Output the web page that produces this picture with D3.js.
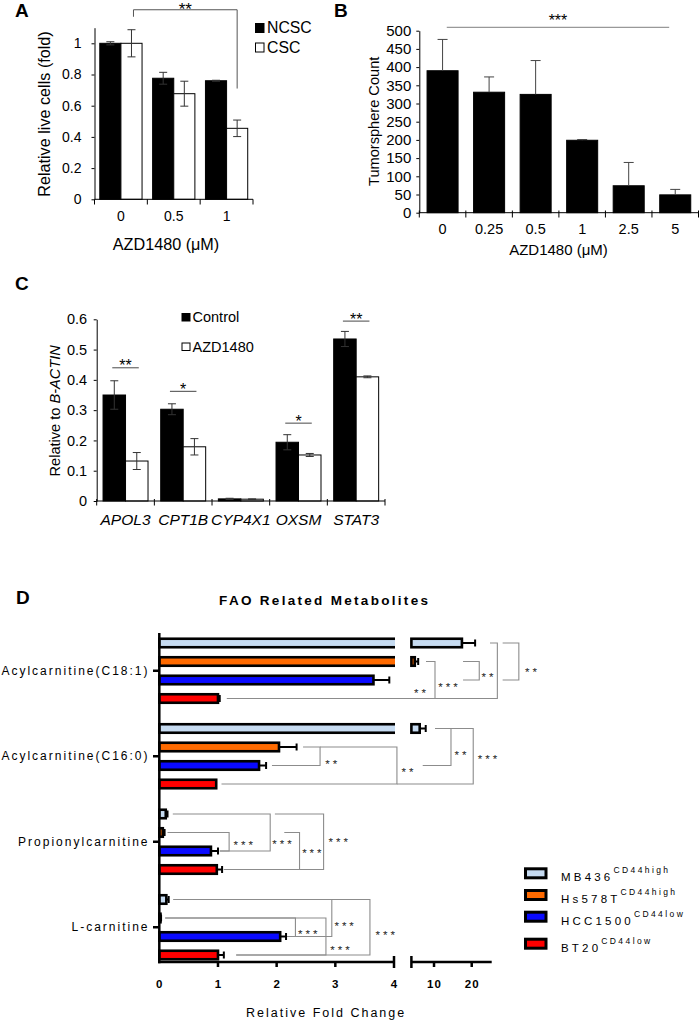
<!DOCTYPE html>
<html><head><meta charset="utf-8">
<script src="https://cdn.jsdelivr.net/npm/d3@7"></script>
<style>
body{margin:0;background:#fff;}
svg{display:block;font-family:"Liberation Sans",Arial,Helvetica,sans-serif;}
</style></head><body>
<svg id="chart" width="699" height="1020"></svg>
<script>
// ================= DATA =================
// Panel A
const aDoses = ["0", "0.5", "1"];
const aSeries = ["NCSC", "CSC"];
const aNCSC = [1.0, 0.776, 0.76];
const aNCSCErr = [0.01, 0.038, 0.003];
const aCSC = [1.0, 0.677, 0.455];
const aCSCErr = [0.087, 0.08, 0.053];
const aYTicks = [0, 0.2, 0.4, 0.6, 0.8, 1];
const aSig = [{from: "0", to: "1", series: "CSC", top: 1.215, leftEnd: 1.17, rightEnd: 0.71, label: "**"}];

// Panel B
const bDoses = ["0", "0.25", "0.5", "1", "2.5", "5"];
const bCounts = [390, 331, 325, 199, 74, 49];
const bErr = [86, 42, 93, 2, 64, 15];
const bYTicks = [0, 50, 100, 150, 200, 250, 300, 350, 400, 450, 500];
const bSig = [{from: "0", to: "5", level: 509, label: "***"}];

// Panel C
const cGenes = ["APOL3", "CPT1B", "CYP4X1", "OXSM", "STAT3"];
const cSeries = ["Control", "AZD1480"];
const cControl = [0.35, 0.303, 0.007, 0.194, 0.535];
const cControlErr = [0.047, 0.018, 0.002, 0.025, 0.025];
const cAZD = [0.132, 0.179, 0.006, 0.152, 0.41];
const cAZDErr = [0.028, 0.027, 0.001, 0.005, 0.003];
const cYTicks = [0, 0.1, 0.2, 0.3, 0.4, 0.5, 0.6];
const cSig = [
  {gene: "APOL3", level: 0.44, label: "**"},
  {gene: "CPT1B", level: 0.362, label: "*"},
  {gene: "OXSM", level: 0.257, label: "*"},
  {gene: "STAT3", level: 0.594, label: "**"}
];

// Panel D
const dMetabolites = ["Acylcarnitine(C18:1)", "Acylcarnitine(C16:0)", "Propionylcarnitine", "L-carnitine"];
const dLines = ["MB436", "Hs578T", "HCC1500", "BT20"];
const dSuper = ["CD44high", "CD44high", "CD44low", "CD44low"];
const dColors = ["#c6dbf1", "#ff6a00", "#0a0aff", "#ff0000"];
const dMB436 = [17.4, 6.2, 0.11, 0.12];
const dMB436Err = [3.5, 1.6, 0.03, 0.04];
const dHs578T = [4.9, 2.04, 0.06, 0.02];
const dHs578TErr = [0.9, 0.3, 0.03, 0.01];
const dHCC1500 = [3.65, 1.7, 0.88, 2.06];
const dHCC1500Err = [0.27, 0.12, 0.12, 0.1];
const dBT20 = [1.0, 0.97, 0.98, 1.0];
const dBT20Err = [0.03, 0.0, 0.09, 0.1];
const dTicksLow = [0, 1, 2, 3, 4];
const dTicksHigh = [10, 20];
// brackets: metabolite index, top bar, bottom bar, vertical x, top arm start, bottom arm start (fold units)
const dBrackets = [
  {m: 0, a: 1, b: 3, x: 10.26, xa: 7.87, xb: 1.15},
  {m: 0, a: 0, b: 3, x: 26.8, xa: 24.85, xb: 10.26},
  {m: 0, a: 0, b: 2, x: 32.5, xa: 28.2, xb: 28.2},
  {m: 0, a: 1, b: 2, x: 22.0, xa: 17.7, xb: 17.7},
  {m: 1, a: 1, b: 2, x: 2.74, xa: 2.45, xb: 1.92},
  {m: 1, a: 1, b: 3, x: 4.05, xa: 2.74, xb: 1.06},
  {m: 1, a: 0, b: 2, x: 14.5, xa: 10.26, xb: 7.0},
  {m: 1, a: 0, b: 3, x: 20.4, xa: 14.5, xb: 4.05},
  {m: 2, a: 0, b: 2, x: 1.89, xa: 0.23, xb: 1.03},
  {m: 2, a: 1, b: 2, x: 1.19, xa: 0.14, xb: 1.03},
  {m: 2, a: 0, b: 3, x: 2.8, xa: 1.97, xb: 1.1},
  {m: 2, a: 1, b: 3, x: 2.39, xa: 2.13, xb: 1.1},
  {m: 3, a: 0, b: 3, x: 3.59, xa: 0.24, xb: 1.31},
  {m: 3, a: 0, b: 2, x: 2.94, xa: 0.24, xb: 2.14},
  {m: 3, a: 1, b: 2, x: 2.32, xa: 0.1, xb: 2.14},
  {m: 3, a: 1, b: 3, x: 2.84, xa: 0.1, xb: 1.31}
];
const dStars = [
  {m: 0, x: 6.28, s: 2.58, label: "**"},
  {m: 0, x: 13.7, s: 2.25, label: "***"},
  {m: 0, x: 35.7, s: 1.45, label: "**"},
  {m: 0, x: 24.2, s: 1.71, label: "**"},
  {m: 1, x: 2.93, s: 1.8, label: "**"},
  {m: 1, x: 4.23, s: 2.23, label: "**"},
  {m: 1, x: 17.0, s: 1.31, label: "**"},
  {m: 1, x: 24.2, s: 1.53, label: "***"},
  {m: 2, x: 2.09, s: 1.51, label: "***"},
  {m: 2, x: 1.43, s: 1.57, label: "***"},
  {m: 2, x: 3.05, s: 1.41, label: "***"},
  {m: 2, x: 2.6, s: 2.0, label: "***"},
  {m: 3, x: 3.85, s: 1.78, label: "***"},
  {m: 3, x: 3.15, s: 1.3, label: "***"},
  {m: 3, x: 2.53, s: 1.73, label: "***"},
  {m: 3, x: 3.08, s: 2.6, label: "***"}
];

// ================= DRAWING =================
const svg = d3.select("#chart");
svg.append("rect").attr("width", 699).attr("height", 1020).attr("fill", "#fff");

function txt(g, x, y, s, size, opts = {}) {
  const t = g.append("text").attr("x", x).attr("y", y).attr("font-size", size).attr("fill", opts.fill || "#000").text(s);
  if (opts.anchor) t.attr("text-anchor", opts.anchor);
  if (opts.weight) t.attr("font-weight", opts.weight);
  if (opts.style) t.attr("font-style", opts.style);
  if (opts.ls) t.attr("letter-spacing", opts.ls);
  if (opts.transform) t.attr("transform", opts.transform);
  return t;
}
function styleAxis(g, size) {
  g.attr("font-size", null).attr("font-family", null);
  g.selectAll("text").attr("font-size", size).attr("fill", "#000");
  g.selectAll("line").attr("stroke", "#000");
  g.select(".domain").attr("stroke", "#000");
}
function errBar(g, x, y1, y2, cap, color, w) {
  g.append("line").attr("x1", x).attr("x2", x).attr("y1", y1).attr("y2", y2).attr("stroke", color).attr("stroke-width", w || 1);
  [y1, y2].forEach(yy => g.append("line").attr("x1", x - cap / 2).attr("x2", x + cap / 2).attr("y1", yy).attr("y2", yy).attr("stroke", color).attr("stroke-width", w || 1));
}

// ---------- Panel A ----------
(function () {
  const g = svg.append("g");
  txt(g, 15, 17, "A", 19, {weight: "bold"});
  const xA = d3.scaleBand().domain(aDoses).range([94.5, 253]).paddingInner(0.2).paddingOuter(0.1);
  const sA = d3.scaleBand().domain(aSeries).range([0, xA.bandwidth()]);
  const yA = d3.scaleLinear().domain([0, 1.1]).range([199.3, 27.7]);
  const vals = {NCSC: aNCSC, CSC: aCSC}, errs = {NCSC: aNCSCErr, CSC: aCSCErr};
  const fills = {NCSC: "#000", CSC: "#fff"};
  aSeries.forEach(s => aDoses.forEach((d, i) => {
    const v = vals[s][i], e = errs[s][i];
    const x = xA(d) + sA(s);
    g.append("rect").attr("x", x).attr("y", yA(v)).attr("width", sA.bandwidth()).attr("height", yA(0) - yA(v))
      .attr("fill", fills[s]).attr("stroke", "#000").attr("stroke-width", 1);
    errBar(g, x + sA.bandwidth() / 2, yA(v - e), yA(v + e), 8, "#333");
  }));
  const ya = g.append("g").attr("transform", "translate(94.5,0)")
    .call(d3.axisLeft(yA).tickValues(aYTicks).tickSize(3).tickPadding(10).tickSizeOuter(0).tickFormat(d3.format("~g")));
  styleAxis(ya, 14);
  g.append("line").attr("x1", 94.5).attr("x2", 253).attr("y1", 199.3).attr("y2", 199.3).attr("stroke", "#000");
  d3.range(aDoses.length + 1).forEach(i => {
    const x = 94.5 + i * xA.step();
    g.append("line").attr("x1", x).attr("x2", x).attr("y1", 199.3).attr("y2", 204.5).attr("stroke", "#000");
  });
  aDoses.forEach(d => txt(g, xA(d) + xA.bandwidth() / 2, 220.5, d, 14, {anchor: "middle"}));
  txt(g, 166, 249.5, "AZD1480 (μM)", 16.2, {anchor: "middle"});
  txt(g, 0, 0, "Relative live cells (fold)", 16.2, {anchor: "middle", transform: "translate(50,114) rotate(-90)"});
  aSig.forEach(sg => {
    const x1 = xA(sg.from) + sA(sg.series) + sA.bandwidth() / 2 + 2;
    const x2 = xA(sg.to) + sA(sg.series) + sA.bandwidth() / 2;
    g.append("path").attr("d", `M${x1},${yA(sg.leftEnd)}V${yA(sg.top)}H${x2}V${yA(sg.rightEnd)}`)
      .attr("fill", "none").attr("stroke", "#555").attr("stroke-width", 1);
    txt(g, (x1 + x2) / 2, yA(sg.top) + 5, sg.label, 17, {anchor: "middle"});
  });
  // legend
  aSeries.forEach((s, i) => {
    g.append("rect").attr("x", 255.5).attr("y", 23.5 + i * 19.5).attr("width", 8.5).attr("height", 9)
      .attr("fill", fills[s]).attr("stroke", "#000").attr("stroke-width", 1);
    txt(g, 267, 33 + i * 19.5, s, 15.8);
  });
})();

// ---------- Panel B ----------
(function () {
  const g = svg.append("g");
  txt(g, 334, 17, "B", 19, {weight: "bold"});
  const xB = d3.scaleBand().domain(bDoses).range([419.3, 698.5]).paddingInner(1 / 3).paddingOuter(1 / 6);
  const yB = d3.scaleLinear().domain([0, 500]).range([212.7, 30.7]);
  bDoses.forEach((d, i) => {
    const v = bCounts[i], e = bErr[i];
    g.append("rect").attr("x", xB(d)).attr("y", yB(v)).attr("width", xB.bandwidth()).attr("height", yB(0) - yB(v))
      .attr("fill", "#000").attr("stroke", "#000");
    const cx = xB(d) + xB.bandwidth() / 2;
    g.append("line").attr("x1", cx).attr("x2", cx).attr("y1", yB(v)).attr("y2", yB(v + e)).attr("stroke", "#444");
    g.append("line").attr("x1", cx - 5).attr("x2", cx + 5).attr("y1", yB(v + e)).attr("y2", yB(v + e)).attr("stroke", "#444");
  });
  const ya = g.append("g").attr("transform", "translate(419.3,0)")
    .call(d3.axisLeft(yB).tickValues(bYTicks).tickSize(3).tickPadding(5).tickSizeOuter(0));
  styleAxis(ya, 15);
  g.append("line").attr("x1", 419.3).attr("x2", 698.5).attr("y1", 212.7).attr("y2", 212.7).attr("stroke", "#000");
  d3.range(bDoses.length + 1).forEach(i => {
    const x = 419.3 + i * xB.step();
    g.append("line").attr("x1", x).attr("x2", x).attr("y1", 210.5).attr("y2", 217.5).attr("stroke", "#000");
  });
  bDoses.forEach(d => txt(g, xB(d) + xB.bandwidth() / 2, 234, d, 14.5, {anchor: "middle"}));
  txt(g, 558.5, 255, "AZD1480 (μM)", 15, {anchor: "middle"});
  txt(g, 0, 0, "Tumorsphere Count", 14.6, {anchor: "middle", transform: "translate(378.8,121.3) rotate(-90)"});
  bSig.forEach(sg => {
    const x1 = xB(sg.from) + xB.bandwidth() / 2 + 0.09 * xB.step();
    const x2 = xB(sg.to) + xB.bandwidth() / 2 - 0.13 * xB.step();
    g.append("line").attr("x1", x1).attr("x2", x2).attr("y1", yB(sg.level)).attr("y2", yB(sg.level)).attr("stroke", "#999").attr("stroke-width", 1.3);
    txt(g, (x1 + x2) / 2, yB(sg.level) - 1.5, sg.label, 16, {anchor: "middle"});
  });
})();

// ---------- Panel C ----------
(function () {
  const g = svg.append("g");
  txt(g, 15, 290, "C", 19, {weight: "bold"});
  const xC = d3.scaleBand().domain(cGenes).range([96.7, 385]).paddingInner(0.22).paddingOuter(0.11);
  const sC = d3.scaleBand().domain(cSeries).range([0, xC.bandwidth()]);
  const yC = d3.scaleLinear().domain([0, 0.6]).range([501, 319.3]);
  const vals = {Control: cControl, AZD1480: cAZD}, errs = {Control: cControlErr, AZD1480: cAZDErr};
  const fills = {Control: "#000", AZD1480: "#fff"};
  cSeries.forEach(s => cGenes.forEach((d, i) => {
    const v = vals[s][i], e = errs[s][i];
    const x = xC(d) + sC(s);
    g.append("rect").attr("x", x).attr("y", yC(v)).attr("width", sC.bandwidth()).attr("height", yC(0) - yC(v))
      .attr("fill", fills[s]).attr("stroke", "#000").attr("stroke-width", 1);
    errBar(g, x + sC.bandwidth() / 2, yC(v - e), yC(v + e), 8, "#333");
  }));
  const ya = g.append("g").attr("transform", "translate(96.7,0)")
    .call(d3.axisLeft(yC).tickValues(cYTicks).tickSize(3).tickPadding(6.5).tickSizeOuter(0).tickFormat(d3.format("~g")));
  styleAxis(ya, 14.5);
  g.append("line").attr("x1", 96.7).attr("x2", 385).attr("y1", 501).attr("y2", 501).attr("stroke", "#000");
  d3.range(cGenes.length + 1).forEach(i => {
    const x = 96.7 + i * xC.step();
    g.append("line").attr("x1", x).attr("x2", x).attr("y1", 499).attr("y2", 505.5).attr("stroke", "#000");
  });
  cGenes.forEach(d => txt(g, xC(d) + xC.bandwidth() / 2, 524.5, d, 15.5, {anchor: "middle", style: "italic"}));
  const yt = g.append("text").attr("transform", "translate(59.8,410.8) rotate(-90)").attr("text-anchor", "middle").attr("font-size", 14.6);
  yt.append("tspan").text("Relative to ");
  yt.append("tspan").attr("font-style", "italic").text("B-ACTIN");
  cSig.forEach(sg => {
    const cx = xC(sg.gene) + xC.bandwidth() / 2;
    const hw = 0.23 * xC.step();
    g.append("line").attr("x1", cx - hw).attr("x2", cx + hw).attr("y1", yC(sg.level)).attr("y2", yC(sg.level))
      .attr("stroke", "#666").attr("stroke-width", 1.2);
    txt(g, cx, yC(sg.level) + 3.5, sg.label, 16, {anchor: "middle"});
  });
  cSeries.forEach((s, i) => {
    g.append("rect").attr("x", 182).attr("y", 313.5 + i * 29.5).attr("width", 8).attr("height", 7.5)
      .attr("fill", fills[s]).attr("stroke", "#000").attr("stroke-width", 1);
    txt(g, 192.5, 322 + i * 29.5, s, 14.5);
  });
})();

// ---------- Panel D ----------
(function () {
  const g = svg.append("g");
  txt(g, 16, 604, "D", 19, {weight: "bold"});
  txt(g, 324.7, 605, "FAO Related Metabolites", 13.5, {anchor: "middle", weight: "bold", ls: 2.3});
  const xLow = d3.scaleLinear().domain([0, 4]).range([159.3, 394]);
  const xHigh = d3.scaleLinear().domain([4, 25.3]).range([411.4, 491.7]);
  const xD = v => v <= 4.3 ? xLow(v) : xHigh(v);
  const yD = d3.scaleBand().domain(dMetabolites).range([628, 970]);
  const subD = d3.scaleBand().domain(dLines).range([0, yD.bandwidth()]).paddingInner(0.4).paddingOuter(0.51);
  const subStep = subD.step();
  const subY = (m, s) => yD(dMetabolites[m]) + subD(dLines[0]) + subD.bandwidth() / 2 + s * subStep;
  const vals = [dMB436, dHs578T, dHCC1500, dBT20];
  const errs = [dMB436Err, dHs578TErr, dHCC1500Err, dBT20Err];
  const xAxisY = 962;
  svg.append("defs").append("clipPath").attr("id", "clipLow")
    .append("rect").attr("x", 0).attr("y", 0).attr("width", xLow(4) + 1).attr("height", 1020);

  // brackets (behind bars)
  const bg = g.append("g").attr("fill", "none").attr("stroke", "#8c8c8c").attr("stroke-width", 1.1);
  dBrackets.forEach(b => {
    const ya = subY(b.m, b.a), yb = subY(b.m, b.b);
    bg.append("path").attr("d", `M${xD(b.xa)},${ya}H${xD(b.x)}V${yb}H${xD(b.xb)}`);
  });
  dStars.forEach(s => {
    txt(g, xD(s.x) + 1.5, subY(s.m, s.s), s.label, 11.5, {anchor: "middle", ls: 3, fill: "#222"}).attr("dy", "0.55em");
  });

  // bars
  const sw = 2.6;
  dLines.forEach((line, li) => dMetabolites.forEach((m, mi) => {
    const v = vals[li][mi], e = errs[li][mi];
    const y = yD(m) + subD(line) + sw / 2, h = subD.bandwidth() - sw;
    if (v <= 4) {
      g.append("rect").attr("x", xLow(0)).attr("y", y).attr("width", xLow(v) - xLow(0)).attr("height", h)
        .attr("fill", dColors[li]).attr("stroke", "#000").attr("stroke-width", sw);
    } else {
      g.append("rect").attr("x", xLow(0)).attr("y", y).attr("width", xLow(4) - xLow(0) + 8).attr("height", h)
        .attr("clip-path", "url(#clipLow)")
        .attr("fill", dColors[li]).attr("stroke", "#000").attr("stroke-width", sw);
      g.append("rect").attr("x", xHigh(4)).attr("y", y).attr("width", xHigh(v) - xHigh(4)).attr("height", h)
        .attr("fill", dColors[li]).attr("stroke", "#000").attr("stroke-width", sw);
    }
    if (e > 0) {
      const cy = y + h / 2;
      g.append("line").attr("x1", xD(v)).attr("x2", xD(v + e)).attr("y1", cy).attr("y2", cy).attr("stroke", "#000").attr("stroke-width", 2);
      g.append("line").attr("x1", xD(v + e)).attr("x2", xD(v + e)).attr("y1", cy - 3.5).attr("y2", cy + 3.5).attr("stroke", "#000").attr("stroke-width", 2);
    }
  }));

  // axes
  const ax = g.append("g").attr("stroke", "#000").attr("stroke-width", 2.5);
  ax.append("line").attr("x1", xLow(0)).attr("x2", xLow(0)).attr("y1", 633).attr("y2", xAxisY + 1.2);
  dMetabolites.forEach(m => {
    const cy = yD(m) + yD.bandwidth() / 2;
    ax.append("line").attr("x1", 153).attr("x2", xLow(0)).attr("y1", cy).attr("y2", cy);
    txt(g, 147.5, cy + 4, m, 12, {anchor: "end", ls: 2}).attr("dx", 2);
  });
  ax.append("line").attr("x1", xLow(0) - 1.2).attr("x2", xLow(4)).attr("y1", xAxisY).attr("y2", xAxisY);
  ax.append("line").attr("x1", xHigh(4)).attr("x2", 491.7).attr("y1", xAxisY).attr("y2", xAxisY);
  dTicksLow.forEach(t => {
    if (t === 4) ax.append("line").attr("x1", xLow(t)).attr("x2", xLow(t)).attr("y1", xAxisY - 6).attr("y2", xAxisY + 6);
    else if (t > 0) ax.append("line").attr("x1", xLow(t)).attr("x2", xLow(t)).attr("y1", xAxisY).attr("y2", xAxisY + 5);
    txt(g, xLow(t), 988, String(t), 11.5, {anchor: "middle", weight: "bold"});
  });
  ax.append("line").attr("x1", xHigh(4)).attr("x2", xHigh(4)).attr("y1", xAxisY - 6).attr("y2", xAxisY + 6);
  dTicksHigh.forEach(t => {
    ax.append("line").attr("x1", xHigh(t)).attr("x2", xHigh(t)).attr("y1", xAxisY).attr("y2", xAxisY + 5);
    txt(g, xHigh(t) + 0.5, 988, String(t), 11.5, {anchor: "middle", weight: "bold", ls: 1});
  });
  txt(g, 246, 1017, "Relative Fold Change", 12.5, {ls: 2});

  // legend
  const legY = [873.3, 895, 916.7, 943.7];
  dLines.forEach((line, i) => {
    g.append("rect").attr("x", 525.5).attr("y", legY[i] - 4.5).attr("width", 20.5).attr("height", 9)
      .attr("fill", dColors[i]).attr("stroke", "#000").attr("stroke-width", 3);
    const t = g.append("text").attr("x", 561).attr("y", legY[i] + 8).attr("font-size", 11.5).attr("letter-spacing", 3.2);
    t.append("tspan").text(line);
    t.append("tspan").attr("dy", -8).attr("font-size", 8.5).attr("letter-spacing", 2.4).text(dSuper[i]);
  });
})();
</script>
</body></html>
